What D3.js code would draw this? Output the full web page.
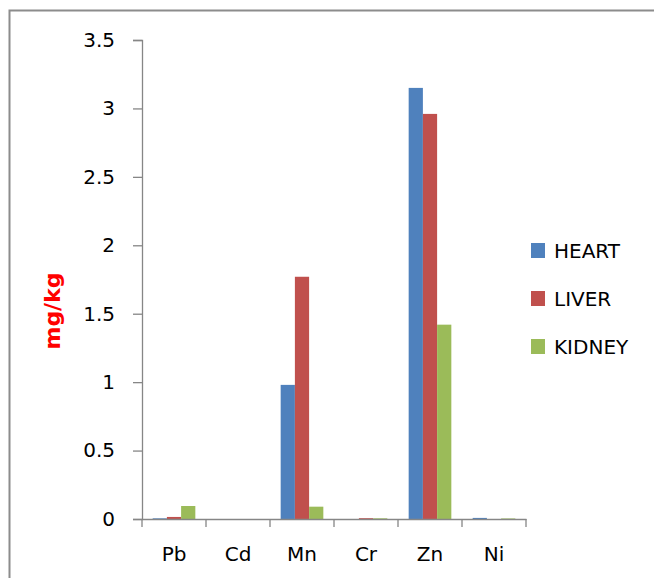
<!DOCTYPE html>
<html>
<head>
<meta charset="utf-8">
<script src="https://cdn.jsdelivr.net/npm/d3@7"></script>
<style>
  html, body { margin: 0; padding: 0; background: #fff; }
  svg { display: block; }
  text { font-family: "DejaVu Sans", sans-serif; fill: #000; }
</style>
</head>
<body>
<svg id="chart" width="654" height="578"></svg>
<script>
const categories = ["Pb", "Cd", "Mn", "Cr", "Zn", "Ni"];
const seriesNames = ["HEART", "LIVER", "KIDNEY"];
const heart  = [0.005, 0, 0.98, 0, 3.15, 0.008];
const liver  = [0.015, 0, 1.77, 0.006, 2.96, 0];
const kidney = [0.095, 0, 0.09, 0.005, 1.42, 0.004];
const yTicks = [0, 0.5, 1, 1.5, 2, 2.5, 3, 3.5];
const colors = ["#4F81BD", "#C0504D", "#9BBB59"];

const seriesValues = [heart, liver, kidney];
const rows = categories.map((c, i) => {
  const r = { cat: c };
  seriesNames.forEach((s, j) => r[s] = seriesValues[j][i]);
  return r;
});

const svg = d3.select("#chart");
const axisColor = "#868686";

// outer frame
svg.append("rect")
  .attr("x", 9.5).attr("y", 10.5)
  .attr("width", 700).attr("height", 700)
  .attr("fill", "none").attr("stroke", "#8c8c8c").attr("stroke-width", 2);

const x0 = d3.scaleBand().domain(categories).range([142, 526]).paddingInner(0).paddingOuter(0);
const x1 = d3.scaleBand().domain(seriesNames).range([0, x0.bandwidth()]).paddingInner(0).paddingOuter(0.75);
const y = d3.scaleLinear().domain([0, 3.5]).range([519, 40]);

// bars
const groups = svg.append("g").selectAll("g").data(rows).join("g")
  .attr("transform", d => `translate(${x0(d.cat)},0)`);
groups.selectAll("rect")
  .data(d => seriesNames.map((s, j) => ({ s, j, v: d[s] })))
  .join("rect")
  .attr("x", d => x1(d.s))
  .attr("width", x1.bandwidth())
  .attr("y", d => y(d.v))
  .attr("height", d => y(0) - y(d.v))
  .attr("fill", d => colors[d.j]);

// y axis
const yAxis = svg.append("g").attr("transform", "translate(142,0)")
  .call(d3.axisLeft(y).tickValues(yTicks).tickSize(9).tickPadding(18).tickFormat(d3.format("")));
yAxis.select(".domain").attr("stroke", axisColor).attr("stroke-width", 1.3);
yAxis.selectAll(".tick line").attr("stroke", axisColor).attr("stroke-width", 1.3);
yAxis.selectAll("text").style("font-size", "20px").style("font-family", "DejaVu Sans").attr("fill", "#000");

// x axis labels
const xAxis = svg.append("g").attr("transform", `translate(0,${y(0)})`)
  .call(d3.axisBottom(x0).tickSize(0).tickPadding(28));
xAxis.select(".domain").attr("stroke", axisColor).attr("stroke-width", 1.3);
xAxis.selectAll("text").style("font-size", "20px").style("font-family", "DejaVu Sans").attr("fill", "#000");

// x boundary ticks
const edges = categories.map(c => x0(c)).concat([x0.range()[1]]);
svg.append("g").selectAll("line").data(edges).join("line")
  .attr("x1", d => d).attr("x2", d => d)
  .attr("y1", y(0)).attr("y2", y(0) + 8)
  .attr("stroke", axisColor).attr("stroke-width", 1.3);

// y label
svg.append("text")
  .attr("transform", "translate(52,311) rotate(-90)")
  .attr("text-anchor", "middle")
  .attr("dy", "0.35em")
  .style("font-size", "22px").style("font-weight", "bold")
  .style("fill", "#FF0000")
  .text("mg/kg");

// legend
const legend = svg.append("g").selectAll("g").data(seriesNames).join("g")
  .attr("transform", (d, i) => `translate(531,${243 + i * 48})`);
legend.append("rect").attr("width", 14).attr("height", 15).attr("fill", (d, i) => colors[i]);
legend.append("text").attr("x", 23).attr("y", 15)
  .style("font-size", "20px").text(d => d);
</script>
</body>
</html>
